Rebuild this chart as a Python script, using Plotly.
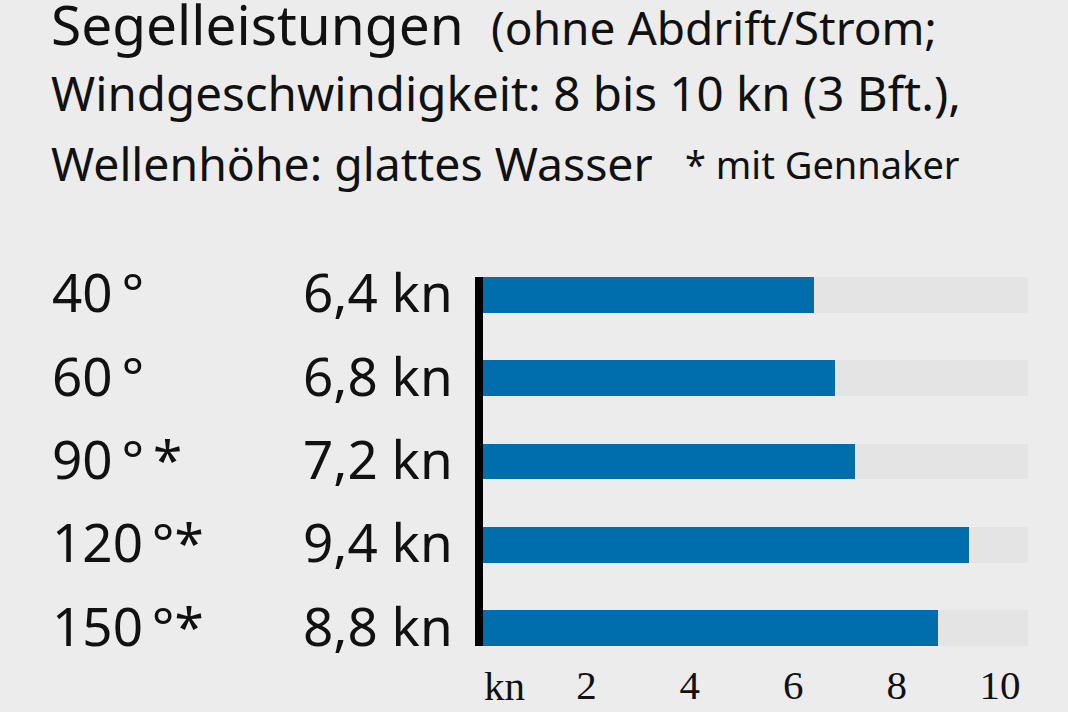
import plotly.graph_objects as go

# ---- data ----
angles = ["40°", "60°", "90°*", "120°*", "150°*"]
angle_labels = ["40\u2009°", "60\u2009°", "90\u2009°\u2009*", "120\u2009°*", "150\u2009°*"]
speeds = [6.4, 6.8, 7.2, 9.4, 8.8]
speed_labels = ["6,4 kn", "6,8 kn", "7,2 kn", "9,4 kn", "8,8 kn"]
tick_vals = [2, 4, 6, 8, 10]
tick_text = ["2", "4", "6", "8", "10"]
unit_label = "kn"

title_main = "Segelleistungen"
title_paren = "(ohne Abdrift/Strom;"
title_line2 = "Windgeschwindigkeit: 8 bis 10 kn (3 Bft.),"
title_line3 = "Wellenhöhe: glattes Wasser"
footnote = "* mit Gennaker"

# ---- layout constants ----
W_PX, H_PX = 1068, 712
L, R, T, B = 483, 40, 277, 66
PW, PH = W_PX - L - R, H_PX - T - B
XMAX = 10.54
BAR_W = 0.43

BG = "#ececec"
TRACK = "#e4e4e4"
BLUE = "#006eaa"
INK = "#111111"
SANS = "Noto Sans"
SERIF = "Liberation Serif"
TICK_FS = 41


def px_x(px):
    return (px - L) / PW


def px_y(py):
    return 1 - (py - T) / PH


def baseline_y(baseline, fs, descent=0.293):
    # paper y for a bottom-anchored box whose text baseline sits at `baseline`
    return px_y(baseline + descent * fs)


fig = go.Figure()
fig.add_trace(go.Bar(
    y=angles, x=[XMAX] * len(angles), orientation="h", width=BAR_W,
    marker=dict(color=TRACK, line=dict(width=0)), hoverinfo="skip", showlegend=False,
))
fig.add_trace(go.Bar(
    y=angles, x=speeds, orientation="h", width=BAR_W,
    marker=dict(color=BLUE, line=dict(width=0)), showlegend=False,
))

annotations = []
# left columns
for a, lab, sl in zip(angles, angle_labels, speed_labels):
    annotations.append(dict(
        x=px_x(50), xref="paper", y=a, yref="y", text=lab, showarrow=False,
        xanchor="left", yanchor="middle", yshift=3,
        font=dict(family=SANS, size=53, color=INK),
    ))
    annotations.append(dict(
        x=px_x(455), xref="paper", y=a, yref="y", text=sl, showarrow=False,
        xanchor="right", yanchor="middle", yshift=3,
        font=dict(family=SANS, size=53, color=INK),
    ))

# unit label under axis
annotations.append(dict(
    x=0, xref="x", y=baseline_y(701, TICK_FS, 0.216), yref="paper", text=unit_label,
    showarrow=False, xanchor="left", yanchor="bottom", borderpad=0,
    font=dict(family=SERIF, size=TICK_FS, color=INK),
))

# title block
titles = [
    (title_main, 50, 46, 55),
    (title_paren, 490, 46, 46),
    (title_line2, 50, 112, 47.5),
    (title_line3, 50, 182, 46.4),
    (footnote, 684, 180, 38),
]
for txt, x0, base, fs in titles:
    annotations.append(dict(
        x=px_x(x0), xref="paper", y=baseline_y(base, fs), yref="paper", text=txt,
        showarrow=False, xanchor="left", yanchor="bottom", borderpad=0,
        font=dict(family=SANS, size=fs, color=INK),
    ))

fig.update_layout(
    width=W_PX, height=H_PX,
    margin=dict(l=L, r=R, t=T, b=B, pad=0, autoexpand=False),
    paper_bgcolor=BG, plot_bgcolor=BG,
    barmode="overlay", bargap=0,
    annotations=annotations,
    xaxis=dict(
        range=[0, XMAX], tickvals=tick_vals, ticktext=tick_text,
        showgrid=False, zeroline=False, showline=False, automargin=False,
        ticks="outside", ticklen=3, tickcolor="rgba(0,0,0,0)",
        tickfont=dict(family=SERIF, size=TICK_FS, color=INK), fixedrange=True,
    ),
    yaxis=dict(
        categoryorder="array", categoryarray=angles,
        range=[len(angles) - 1 + BAR_W / 2, -BAR_W / 2],
        showticklabels=False, showgrid=False, zeroline=False, automargin=False,
        showline=True, linecolor="#000000", linewidth=8, ticks="", fixedrange=True,
    ),
)

fig.write_html(
    "out.html",
    config={"displayModeBar": False},
    post_script="document.body.style.margin='0';document.body.style.overflow='hidden';",
)
